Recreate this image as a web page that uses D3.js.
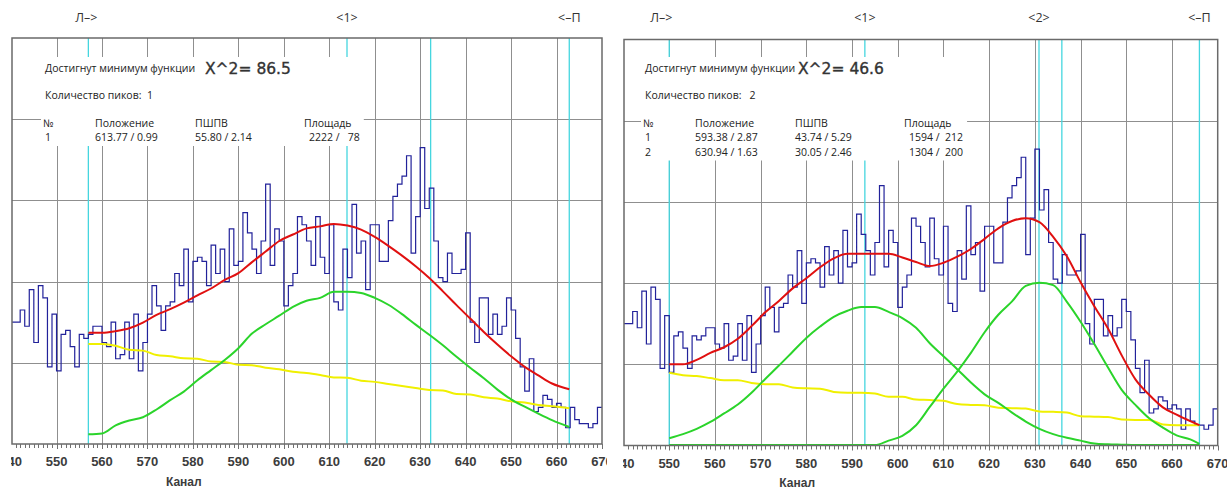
<!DOCTYPE html>
<html><head><meta charset="utf-8">
<script src="https://cdn.jsdelivr.net/npm/d3@7"></script>
<style>body{margin:0;background:#fff;}svg{display:block}text{white-space:pre}</style>
</head><body><svg id="c" width="1227" height="490"></svg>
<script>
// ---- data ----
const channels = d3.range(540, 670);
const counts = [30,30,33,29,38,25,39,36,19,32,
18,27,28,24,19,27,26,27,29,29,
25,24,30,21,22,30,21,32,18,25,
32,39,34,28,34,35,42,39,48,35,
45,46,45,39,49,42,48,40,53,44,
45,57,52,48,42,50,64,44,53,50,
34,39,42,56,54,50,44,56,46,42,
54,35,33,48,41,59,47,50,38,54,
54,45,45,55,61,64,66,71,47,56,
73,58,63,50,41,40,47,42,42,43,
52,30,25,36,36,27,32,27,29,36,
33,26,19,13,21,8,9,12,11,9,
10,9,4,9,6,5,5,4,5,9];

const fitLCh = [557,560,563,566,569,572,575,578,581,584,587,590,593,596,599,602,605,608,611,614,617,620,623,626,629,632,635,638,641,644,647,650,653,656,659,662.8];
const fitLRed = [27.4,27.4,27.8,28.5,29.9,31.8,33.2,34.8,36.6,38.3,40.4,42.1,44.8,47.4,50.0,51.6,53.1,53.6,54.2,53.8,52.8,51.0,48.8,46.4,43.8,40.9,37.6,34.2,30.9,27.6,24.5,21.6,19.0,16.9,14.9,13.5];
const fitLGreen = [2.4,2.6,4.6,5.8,6.6,8.5,10.8,12.9,15.7,18.2,20.7,23.6,27.2,29.5,31.6,33.8,35.3,36.0,37.5,37.5,37.2,36.0,34.3,32.0,29.4,26.9,24.3,21.5,18.8,16.2,13.4,11.0,9.2,7.5,5.9,4.2];
const fitLYellow = [24.6,24.6,24.2,23.2,23.0,21.9,21.6,21.1,21.0,20.3,20.2,19.5,19.4,18.8,18.4,17.8,17.5,17.0,16.4,16.3,15.6,15.3,14.8,14.3,13.8,13.3,13.2,12.3,12.2,11.5,11.2,10.5,10.2,9.6,9.3,8.8];

const fitRCh = [550,553,556,559,562,565,568,571,574,577,580,583,586,589,592,595,598,601,604,607,610,613,616,619,622,625,628,631,634,637,640,643,646,649,652,655,658,661,664,666];
const fitRRed = [20.0,20.0,21.1,22.8,24.2,26.3,29.4,32.8,35.6,38.7,41.2,43.9,46.1,47.2,47.2,47.2,47.2,46.3,45.2,44.2,45.0,46.5,48.4,50.9,53.5,55.3,56.0,55.0,51.4,46.6,40.2,34.3,28.8,22.2,16.3,12.5,9.4,7.6,6.0,5.0];
const fitRYellow = [17.9,17.3,17.1,16.6,16.1,16.1,15.4,15.1,15.1,14.3,14.1,14.0,13.2,13.0,13.0,12.8,12.0,12.0,11.3,11.2,11.0,10.2,10.0,9.9,9.3,9.2,9.1,8.4,8.3,8.1,7.2,7.1,7.0,6.4,6.3,6.3,5.2,5.0,5.0,5.0];
const fitRGreen1 = [1.8,2.8,4.1,5.8,7.9,10.1,13.0,16.4,19.7,23.1,26.5,29.3,31.7,33.2,34.1,34.1,32.9,31.4,29.0,25.2,22.0,18.8,15.5,12.6,10.5,8.1,5.9,4.1,2.8,1.9,1.2,0.5,0.3,0.2,0.1,0.1,0.1,0.1,0.1,0.1];
const fitRGreen2 = [0.1,0.1,0.1,0.1,0.1,0.1,0.1,0.1,0.1,0.1,0.1,0.1,0.1,0.1,0.1,0.1,1.2,2.4,5.0,9.5,14.0,18.2,22.8,27.9,32.2,35.5,39.3,40.1,39.5,35.4,30.5,25.0,19.2,13.7,10.0,6.7,4.4,2.5,1.5,0.4];

const xTicks = d3.range(540, 671, 10);
const yGrid = [20, 40, 60, 80];

const markLCh = [557, 613.9, 632.3, 662.8];
const markLLab = ["Л–>", "<1>", "", "<–П"];
const markRCh = [550, 592.8, 630.9, 635.9, 666.0];
const markRLab = ["Л–>", "<1>", "<2>", "", "<–П"];

const headers = ["№", "Положение", "ПШПВ", "Площадь"];
const rowsL = [["1", "613.77 / 0.99", "55.80 / 2.14", "2222 /   78"]];
const rowsR = [["1", "593.38 / 2.87", "43.74 / 5.29", "1594 /  212"],
               ["2", "630.94 / 1.63", "30.05 / 2.46", "1304 /  200"]];
const chiL = "X^2= 86.5", chiR = "X^2= 46.6";
const peaksL = "Количество пиков:  1", peaksR = "Количество пиков:   2";

// ---- drawing ----
const svg = d3.select("#c");
const defs = svg.append("defs");
const C = {grid:"#8f8f8f", cyan:"#45d6df", blue:"#22229a", red:"#e01010", green:"#2bd42b", yellow:"#f0f000", frame:"#6a6a6a", tick:"#707070", lab:"#3c3c3c"};
const infoFont = "'Open Sans', sans-serif";

function drawPanel(p) {
  const g = svg.append("g");
  const x = d3.scaleLinear().domain(p.xDomain).range([p.left, p.right]);
  const y = d3.scaleLinear().domain([0, 100]).range([p.bottom, p.top]);
  defs.append("clipPath").attr("id", p.id + "plot").append("rect")
    .attr("x", p.left).attr("y", p.top).attr("width", p.right - p.left).attr("height", p.bottom - p.top);
  defs.append("clipPath").attr("id", p.id + "lab").append("rect")
    .attr("x", p.left - 1).attr("y", p.bottom).attr("width", p.labClip - p.left + 1).attr("height", 60);

  // grid
  g.append("g").selectAll("line").data(xTicks.filter(t => t > p.xDomain[0] && t < p.xDomain[1])).join("line")
    .attr("x1", d => Math.round(x(d)) + 0.5).attr("x2", d => Math.round(x(d)) + 0.5)
    .attr("y1", p.top).attr("y2", p.bottom).attr("stroke", C.grid).attr("stroke-width", 1);
  g.append("g").selectAll("line").data(yGrid).join("line")
    .attr("x1", p.left).attr("x2", p.right).attr("y1", d => Math.round(y(d)) + 0.5).attr("y2", d => Math.round(y(d)) + 0.5)
    .attr("stroke", C.grid).attr("stroke-width", 1);

  // markers
  g.append("g").selectAll("line").data(p.markCh).join("line")
    .attr("x1", d => x(d)).attr("x2", d => x(d)).attr("y1", p.top).attr("y2", p.bottom)
    .attr("stroke", C.cyan).attr("stroke-width", 1.3);
  g.append("g").selectAll("text").data(p.markCh).join("text")
    .attr("x", (d, i) => x(d) + (i === 0 ? p.firstLabDx : 0)).attr("y", 22)
    .attr("text-anchor", "middle").attr("font-family", infoFont).attr("font-size", 12.5)
    .attr("fill", "#333").text((d, i) => p.markLab[i]);

  // info block
  const info = g.append("g");
  const tx = p.textX;
  info.append("text").attr("x", tx).attr("y", 72).attr("font-family", infoFont).attr("font-size", 10.5).attr("fill", "#222")
    .text("Достигнут минимум функции");
  info.append("text").attr("x", tx + p.chiDx).attr("y", 74).attr("font-family", "'DejaVu Sans', sans-serif").attr("font-size", 15.5)
    .attr("fill", "#333").attr("stroke", "#333").attr("stroke-width", 0.35).text(p.chi);
  info.append("text").attr("x", tx).attr("y", 99).attr("font-family", infoFont).attr("font-size", 10.5).attr("fill", "#222")
    .text(p.peaks);
  const cols = [0, 52, 152, 261];
  headers.forEach((h, j) => info.append("text").attr("x", tx - 2 + cols[j]).attr("y", 126.5)
    .attr("font-family", infoFont).attr("font-size", 10.5).attr("fill", "#222").text(h));
  p.rows.forEach((r, i) => r.forEach((v, j) => info.append("text")
    .attr("x", tx - 2 + cols[j] + (j === 0 ? 2 : j === 3 ? 5 : 0)).attr("y", 141 + i * 14.5)
    .attr("font-family", infoFont).attr("font-size", 10.5).attr("fill", "#222").text(v)));
  const bb = info.node().getBBox();
  info.insert("rect", ":first-child").attr("x", bb.x - 2).attr("y", 57).attr("width", bb.width + 6)
    .attr("height", bb.y + bb.height + 2 - 57).attr("fill", "#fff");

  // histogram
  const hist = channels.map((c, i) => [c, counts[i]]);
  hist.push([670, counts[counts.length - 1]]);
  const plot = g.append("g").attr("clip-path", `url(#${p.id}plot)`);
  plot.append("path").datum(hist)
    .attr("d", d3.line().x(d => x(d[0])).y(d => y(d[1])).curve(d3.curveStepAfter))
    .attr("fill", "none").attr("stroke", C.blue).attr("stroke-width", 1.2);

  const line = d3.line().x(d => x(d[0])).y(d => y(d[1])).curve(d3.curveMonotoneX);
  p.curves.forEach(cv => plot.append("path").datum(p.fitCh.map((c, i) => [c, cv.v[i]]))
    .attr("d", line).attr("fill", "none").attr("stroke", cv.color).attr("stroke-width", 2).attr("stroke-linejoin", "round"));

  // frame
  g.append("rect").attr("x", p.left).attr("y", p.top).attr("width", p.right - p.left).attr("height", p.bottom - p.top)
    .attr("fill", "none").attr("stroke", C.frame).attr("stroke-width", 1.5);

  // ticks
  const minor = d3.range(Math.ceil(p.xDomain[0]), p.xDomain[1] + 0.001, 1);
  g.append("g").selectAll("line").data(minor).join("line")
    .attr("x1", d => Math.round(x(d)) + 0.5).attr("x2", d => Math.round(x(d)) + 0.5)
    .attr("y1", p.bottom).attr("y2", d => p.bottom + (d % 10 === 0 ? 5 : 4))
    .attr("stroke", C.tick).attr("stroke-width", 1);
  g.append("g").attr("clip-path", `url(#${p.id}lab)`).selectAll("text").data(xTicks).join("text")
    .attr("x", d => x(d)).attr("y", p.bottom + 22).attr("text-anchor", "middle")
    .attr("font-family", "'Liberation Sans', Arial, sans-serif").attr("font-weight", "bold").attr("font-size", 13)
    .attr("fill", C.lab).text(d => d);
  g.append("text").attr("x", x(578)).attr("y", p.titleY).attr("text-anchor", "middle")
    .attr("font-family", "'Liberation Sans', Arial, sans-serif").attr("font-weight", "bold").attr("font-size", 12)
    .attr("fill", C.lab).text("Канал");
}

drawPanel({id: "L", left: 12, right: 602, top: 38, bottom: 444, xDomain: [540.2, 670], labClip: 607,
  markCh: markLCh, markLab: markLLab, firstLabDx: -2, textX: 45, chiDx: 160, chi: chiL, peaks: peaksL, rows: rowsL,
  titleY: 486, fitCh: fitLCh,
  curves: [{v: fitLYellow, color: C.yellow}, {v: fitLGreen, color: C.green}, {v: fitLRed, color: C.red}]});
drawPanel({id: "R", left: 624, right: 1217.7, top: 39.5, bottom: 445.5, xDomain: [540.1, 670], labClip: 1227,
  markCh: markRCh, markLab: markRLab, firstLabDx: -8, textX: 645, chiDx: 153, chi: chiR, peaks: peaksR, rows: rowsR,
  titleY: 487, fitCh: fitRCh,
  curves: [{v: fitRYellow, color: C.yellow}, {v: fitRGreen1, color: C.green}, {v: fitRGreen2, color: C.green}, {v: fitRRed, color: C.red}]});
</script></body></html>
